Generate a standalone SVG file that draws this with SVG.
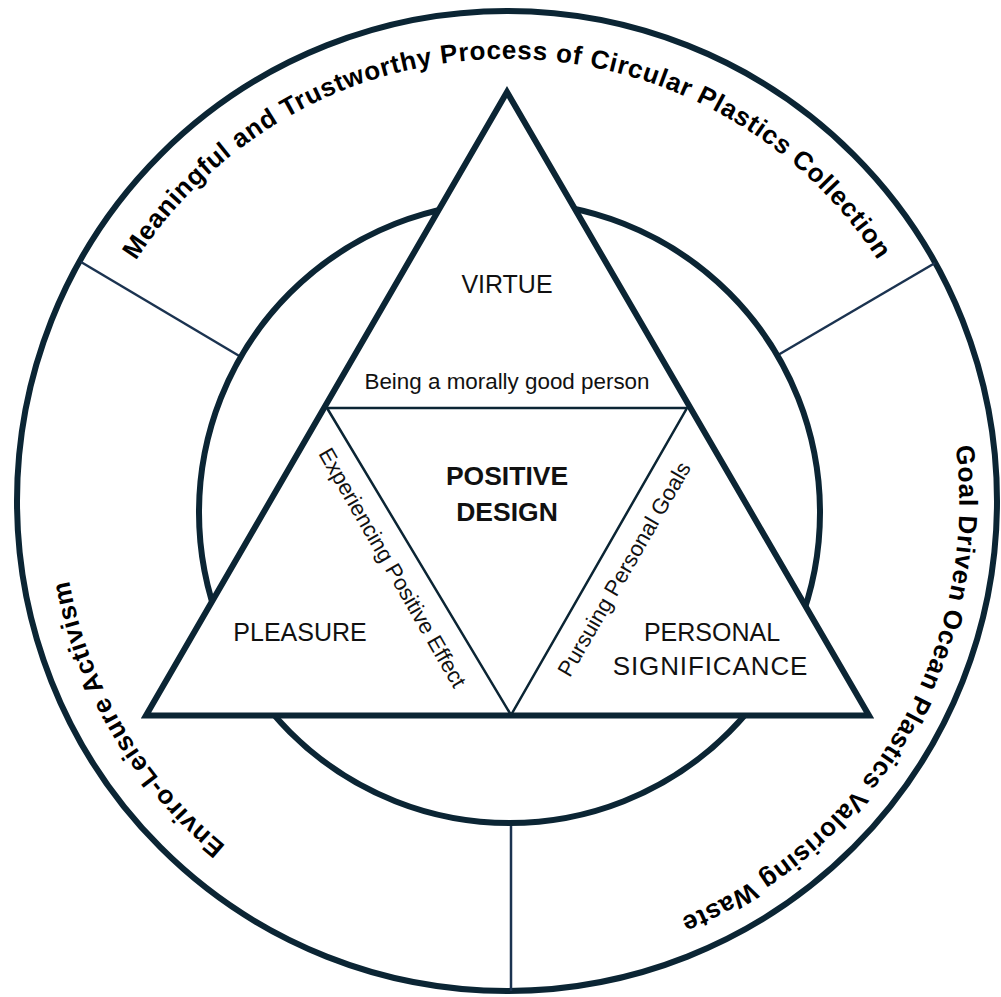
<svg xmlns="http://www.w3.org/2000/svg" width="1001" height="997" viewBox="0 0 1001 997">
  <style>
    .thick { fill: none; stroke: #0b2534; stroke-width: 6; }
    .thin { fill: none; stroke: #0b2534; stroke-width: 2.5; }
    .div { stroke: #1b3350; stroke-width: 2.5; }
    .lbl { font-family: "Liberation Sans", Arial, sans-serif; fill: #111; }
    .ring { font-family: "Liberation Sans", Arial, sans-serif; font-weight: bold; fill: #000; }
  </style>
  <defs>
    <!-- top: centred at -90deg, r=442 -->
    <path id="arcTop" d="M 71.7 424.2 A 442 442 0 0 1 942.3 424.2"/>
    <!-- right: centred at 29.75deg, r=450 -->
    <path id="arcRight" d="M 798.6 157.3 A 450 450 0 0 1 351.6 923.4"/>
    <!-- left: centred at 149.5deg, r=445 -->
    <path id="arcLeft" d="M 662.8 917.8 A 445 445 0 0 1 218.0 162.6"/>
  </defs>
  <rect width="1001" height="997" fill="#ffffff"/>

  <g id="outer-ring">
    <circle class="thick" cx="507" cy="501" r="490"/>
  </g>

  <g id="connectors">
    <line class="div" x1="81" y1="262" x2="241" y2="357"/>
    <line class="div" x1="935" y1="263" x2="778" y2="355"/>
    <line class="div" x1="511" y1="823" x2="511" y2="991"/>
  </g>

  <g id="ring-meaningful">
    <text class="ring" font-size="26" letter-spacing="0.75"><textPath href="#arcTop" startOffset="50%" text-anchor="middle">Meaningful and Trustworthy Process of Circular Plastics Collection</textPath></text>
  </g>
  <g id="ring-goal">
    <text class="ring" font-size="26" letter-spacing="0.8"><textPath href="#arcRight" startOffset="50%" text-anchor="middle">Goal Driven Ocean Plastics Valorising Waste</textPath></text>
  </g>
  <g id="ring-enviro">
    <text class="ring" font-size="26" letter-spacing="0.8"><textPath href="#arcLeft" startOffset="50%" text-anchor="middle">Enviro-Leisure Activism</textPath></text>
  </g>

  <g id="inner-circle">
    <circle class="thick" cx="509.5" cy="512.5" r="310.5"/>
  </g>

  <g id="triangle">
    <polygon points="507,92 146,715.5 869,715.5" fill="#ffffff" stroke="#0b2534" stroke-width="6" stroke-linejoin="miter"/>
  </g>

  <g id="virtue">
    <text class="lbl" x="507" y="293" font-size="25" text-anchor="middle">VIRTUE</text>
    <text class="lbl" x="507" y="389" font-size="22.4" text-anchor="middle">Being a morally good person</text>
  </g>

  <g id="positive-design">
    <polyline class="thin" points="327,408 687,408 511,715 327,408"/>
    <text class="lbl" x="507" y="485" font-size="26.5" font-weight="bold" text-anchor="middle">POSITIVE</text>
    <text class="lbl" x="507" y="521" font-size="26.5" font-weight="bold" text-anchor="middle">DESIGN</text>
  </g>

  <g id="pleasure">
    <text class="lbl" x="300" y="641" font-size="25" text-anchor="middle">PLEASURE</text>
    <text class="lbl" transform="translate(386,571.5) rotate(60)" font-size="22" text-anchor="middle">Experiencing Positive Effect</text>
  </g>

  <g id="personal-significance">
    <text class="lbl" x="712" y="641" font-size="25" text-anchor="middle">PERSONAL</text>
    <text class="lbl" x="710.5" y="675" font-size="26" letter-spacing="0.9" text-anchor="middle">SIGNIFICANCE</text>
    <text class="lbl" transform="translate(630.7,572.9) rotate(-60)" font-size="22" text-anchor="middle">Pursuing Personal Goals</text>
  </g>
</svg>
